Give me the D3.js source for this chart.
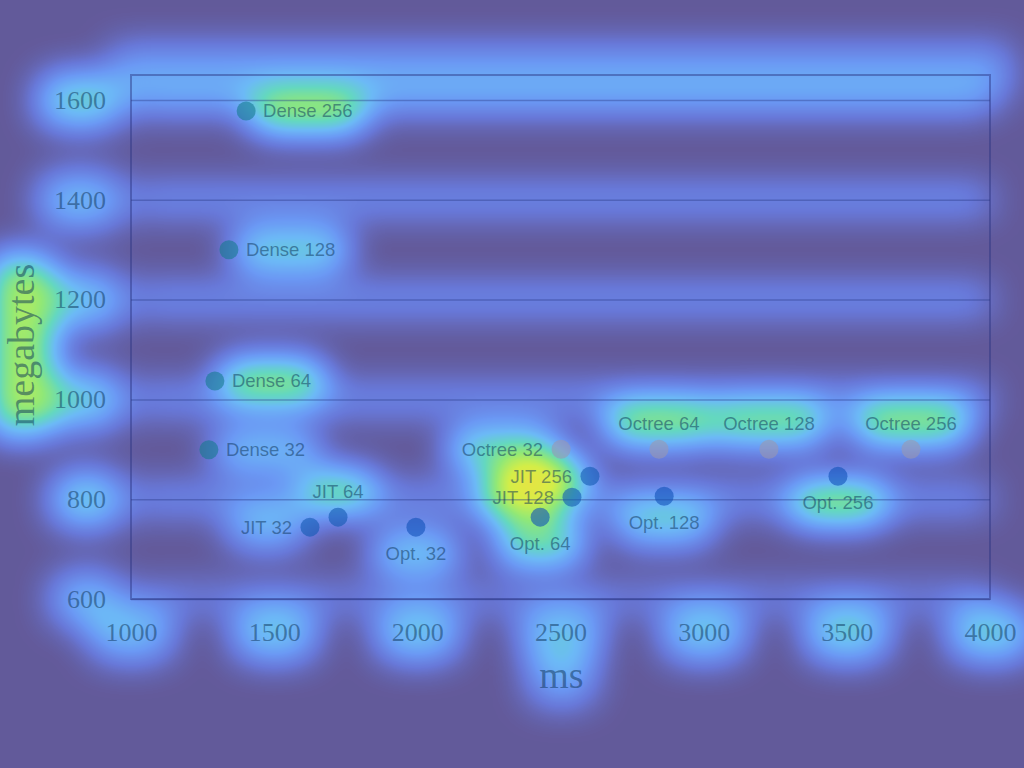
<!DOCTYPE html>
<html><head><meta charset="utf-8">
<script src="https://cdn.jsdelivr.net/npm/d3@7"></script>
<style>body{margin:0;background:#635a9a;overflow:hidden}</style>
</head><body>
<svg id="c" width="1024" height="768"></svg>
<script>
// ---- data ----
const labels   = ["Dense 256","Dense 128","Dense 64","Dense 32","JIT 32","JIT 64","Opt. 32","Octree 32","JIT 256","JIT 128","Opt. 64","Octree 64","Opt. 128","Octree 128","Opt. 256","Octree 256"];
const msValues = [1402,1342,1293,1272,1625,1723,1995,2502,2603,2540,2429,2844,2862,3228,3469,3724];
const mbValues = [1578,1300,1037,899,744,764,744,900,846,804,764,900,806,900,846,900];
const labelSide = ["right","right","right","right","left","top","bottom","left","left","left","bottom","top","bottom","top","bottom","top"];
const xTicks = [1000,1500,2000,2500,3000,3500,4000];
const yTicks = [600,800,1000,1200,1400,1600];
const xTitle = "ms", yTitle = "megabytes";
// attention (heat) weights per text element
const labelHeat = [0.8,0.62,0.78,0.5,0.45,0.68,0.55,0.68,0.95,0.95,0.72,0.78,0.55,0.72,0.78,0.78];
const xTickHeat = [0.45,0.5,0.5,0.45,0.5,0.55,0.55];
const yTickHeat = [0.42,0.55,0.55,0.5,0.45,0.58];
const gridHeat  = [0.28,0.38,0.38,0.4,0.4,0.4];
const titleHeat = [0.38,0.78];
const borderHeat = 0.34;

const seriesColor = {Dense:"#157a90", JIT:"#1258b0", "Opt.":"#1050b8", Octree:"#9a98b0"};
const W=1024,H=768, L=131,R=990,T=75,B=599;
const svg = d3.select("#c");
const x = d3.scaleLinear().domain([1000,4000]).range([L,R]);
const y = d3.scaleLinear().domain([600,1650]).range([B,T]);

// layers
const defs = svg.append("defs");
svg.append("rect").attr("width",W).attr("height",H).attr("fill","#635a9a");
const heatG = svg.append("g").attr("filter","url(#heat)");
const chart = svg.append("g");

// colormap
const stops = ["#635a9a","#6878d8","#6b98f4","#6cbaf6","#64d8c0","#90e878","#d4ee48","#f0e040"];
const interp = d3.piecewise(d3.interpolateRgb, stops);
const N=28, tab = d3.range(N+1).map(i=>d3.rgb(interp(i/N)));
const f = defs.append("filter").attr("id","heat")
  .attr("color-interpolation-filters","sRGB").attr("filterUnits","userSpaceOnUse")
  .attr("x",-100).attr("y",-100).attr("width",W+200).attr("height",H+200);
f.append("feGaussianBlur").attr("stdDeviation",18);
const ct = f.append("feComponentTransfer");
ct.append("feFuncR").attr("type","table").attr("tableValues",tab.map(c=>(c.r/255).toFixed(3)).join(" "));
ct.append("feFuncG").attr("type","table").attr("tableValues",tab.map(c=>(c.g/255).toFixed(3)).join(" "));
ct.append("feFuncB").attr("type","table").attr("tableValues",tab.map(c=>(c.b/255).toFixed(3)).join(" "));
ct.append("feFuncA").attr("type","table").attr("tableValues","1 1");

// ---- chart ----
const textCol="#0c3458", textOp=0.5;
const yAxis = chart.append("g").attr("transform",`translate(${L},0)`)
  .call(d3.axisLeft(y).tickValues(yTicks).tickSize(-(R-L)).tickPadding(25).tickFormat(d3.format("d")));
yAxis.select(".domain").remove();
yAxis.selectAll("line").attr("stroke","#2a3a88").attr("stroke-opacity",0.4).attr("stroke-width",1.5);
yAxis.selectAll("text").attr("font-family","Liberation Serif, serif").attr("font-size",26)
  .attr("fill",textCol).attr("fill-opacity",textOp);

const xAxis = chart.append("g").attr("transform",`translate(0,${B})`)
  .call(d3.axisBottom(x).tickValues(xTicks).tickSize(0).tickPadding(24).tickFormat(d3.format("d")));
xAxis.select(".domain").remove();
xAxis.selectAll("text").attr("font-family","Liberation Serif, serif").attr("font-size",26)
  .attr("fill",textCol).attr("fill-opacity",textOp);

chart.append("rect").attr("x",L).attr("y",T).attr("width",R-L).attr("height",B-T)
  .attr("fill","none").attr("stroke","#2a3480").attr("stroke-opacity",0.45).attr("stroke-width",2);

const xt = chart.append("text").attr("x",(L+R)/2+1).attr("y",688).attr("text-anchor","middle")
  .attr("font-family","Liberation Serif, serif").attr("font-size",38).attr("fill",textCol).attr("fill-opacity",textOp).text(xTitle);
const yt = chart.append("text").attr("transform",`translate(34,${(T+B)/2+8}) rotate(-90)`).attr("text-anchor","middle")
  .attr("font-family","Liberation Serif, serif").attr("font-size",38).attr("fill",textCol).attr("fill-opacity",textOp).text(yTitle);

const pts = chart.append("g").selectAll("g").data(labels).join("g")
  .attr("transform",(d,i)=>`translate(${x(msValues[i])},${y(mbValues[i])})`);
pts.append("circle").attr("r",9.5).attr("fill",(d)=>seriesColor[d.split(" ")[0]]).attr("fill-opacity",0.6);
const lbl = pts.append("text").attr("font-family","Liberation Sans, Arial, sans-serif").attr("font-size",18.5)
  .attr("fill",textCol).attr("fill-opacity",textOp).text(d=>d)
  .each(function(d,i){
    const s=d3.select(this), side=labelSide[i];
    if(side==="right") s.attr("x",17).attr("dy","0.35em");
    else if(side==="left") s.attr("x",-18).attr("dy","0.35em").attr("text-anchor","end");
    else if(side==="top") s.attr("y",-26).attr("dy","0.35em").attr("text-anchor","middle");
    else s.attr("y",26).attr("dy","0.35em").attr("text-anchor","middle");
  });

// ---- heat layer built from rendered element boxes ----
heatG.append("rect").attr("x",-150).attr("y",-150).attr("width",W+300).attr("height",H+300).attr("fill","#000");
function heatBox(node,w,pad){
  const b=node.getBoundingClientRect();
  heatG.append("rect").attr("x",b.left-pad).attr("y",b.top-pad*0.7).attr("width",b.width+2*pad).attr("height",b.height+pad*1.4)
    .attr("rx",pad*1.5).attr("fill","#fff").attr("fill-opacity",w);
}
// bands
yTicks.forEach((v,i)=>heatG.append("rect").attr("x",L).attr("y",y(v)-10).attr("width",R-L).attr("height",20)
  .attr("fill","#fff").attr("fill-opacity",gridHeat[i]));
heatG.append("rect").attr("x",L-20).attr("y",T-28).attr("width",R-L+40).attr("height",50).attr("fill","#fff").attr("fill-opacity",borderHeat);
yAxis.selectAll("text").each(function(d,i){heatBox(this,yTickHeat[i],16);});
xAxis.selectAll("text").each(function(d,i){heatBox(this,xTickHeat[i],16);});
heatBox(xt.node(),titleHeat[0],10);
heatBox(yt.node(),titleHeat[1],12);
lbl.each(function(d,i){heatBox(this,labelHeat[i],14);});
</script>
</body></html>
